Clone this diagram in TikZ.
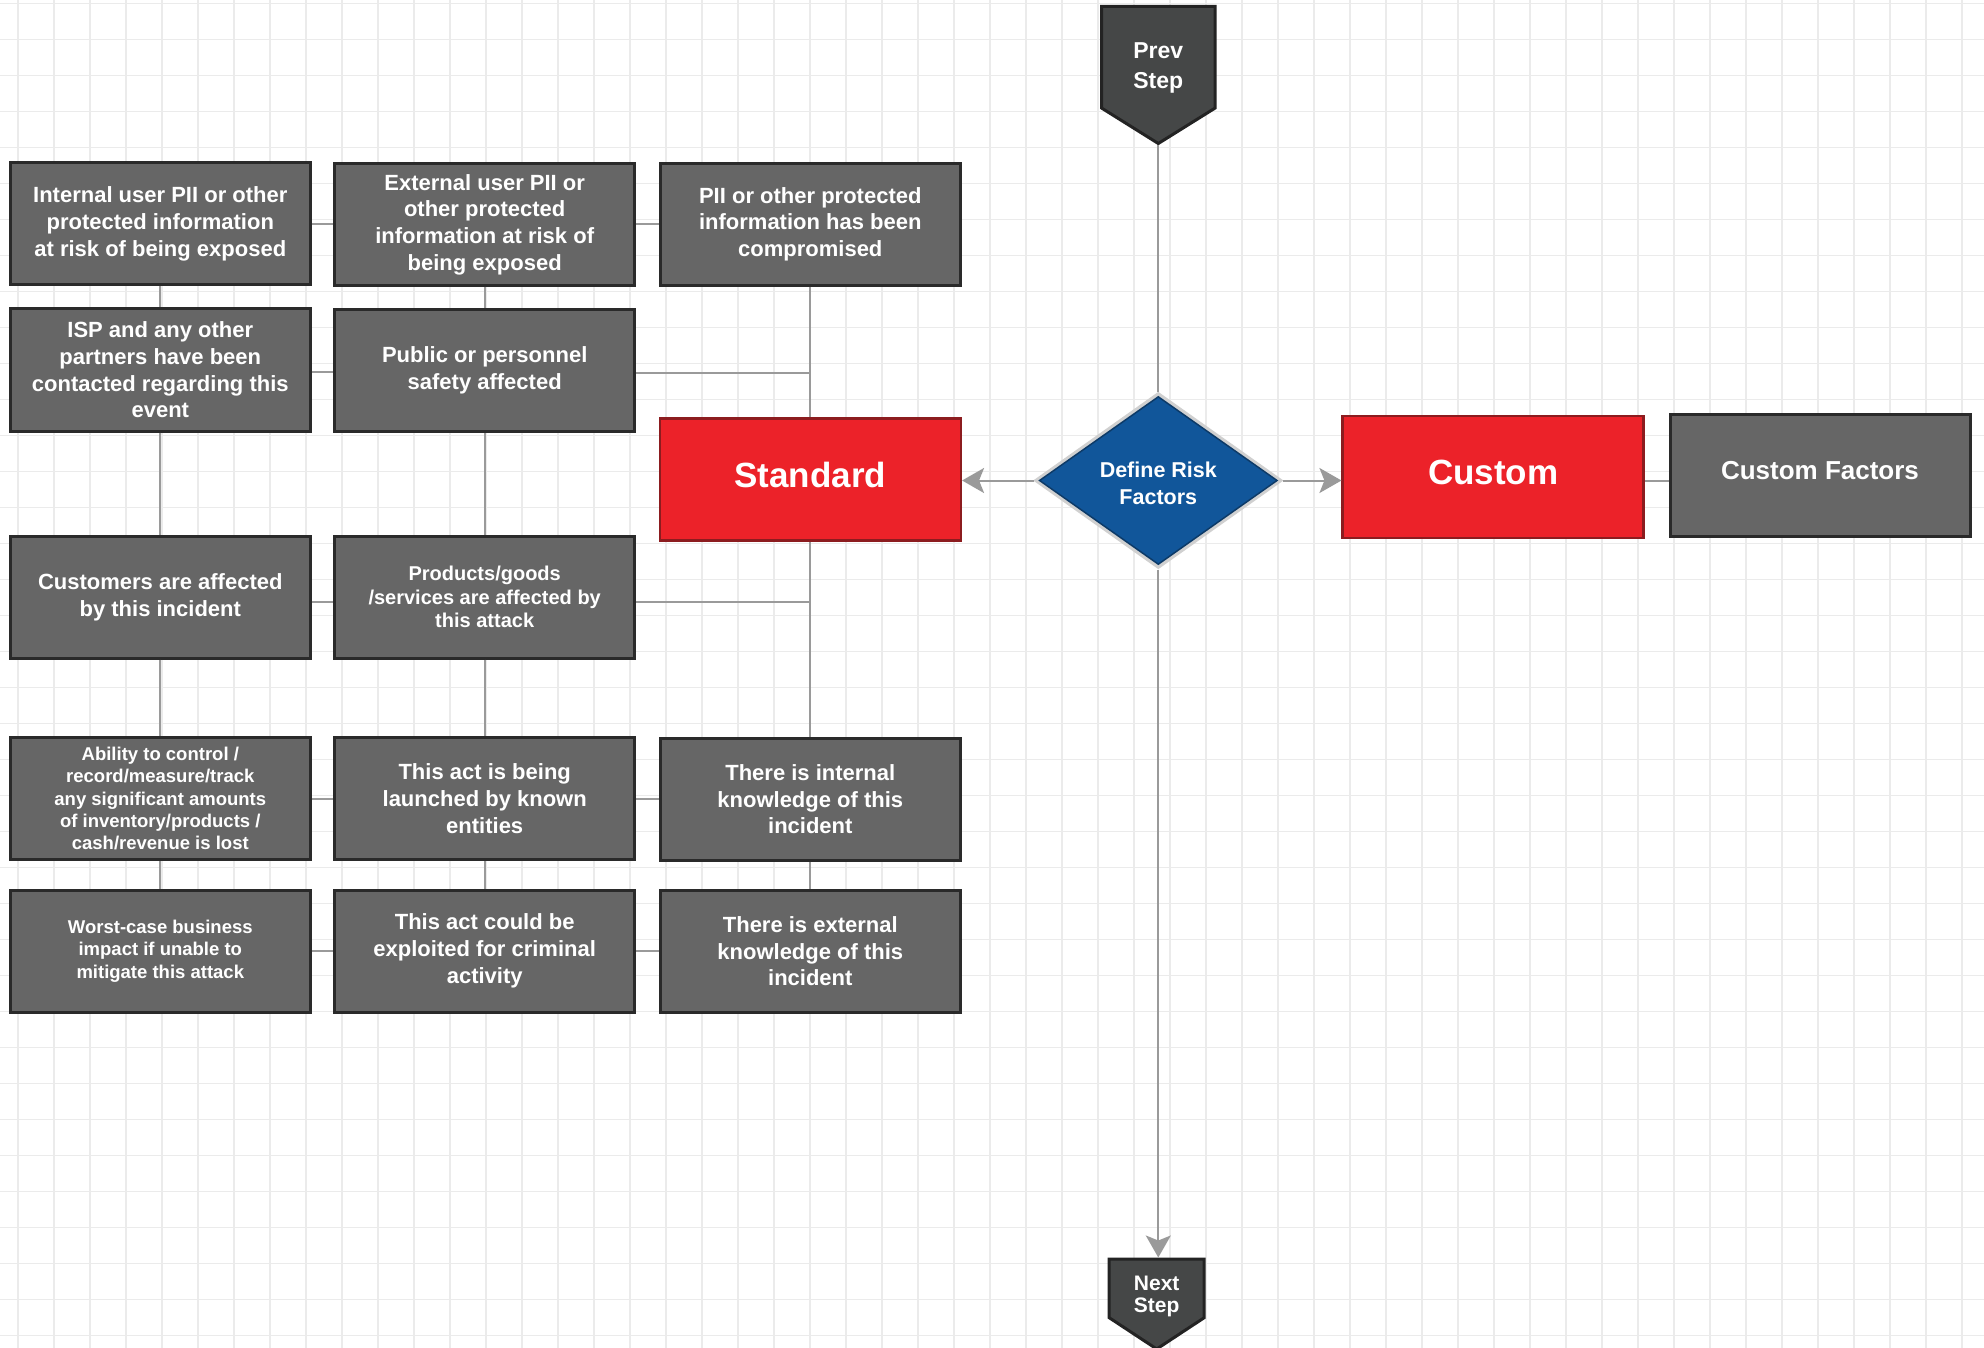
\documentclass[tikz,border=0pt]{standalone}
\usepackage{fontspec}
\setmainfont{Liberation Sans}
\usetikzlibrary{shapes.geometric,arrows.meta}
\definecolor{gridc}{HTML}{EBEBEB}
\definecolor{boxfill}{HTML}{666666}
\definecolor{boxline}{HTML}{2A2A2A}
\definecolor{redfill}{HTML}{EC2229}
\definecolor{redline}{HTML}{8C1C1F}
\definecolor{stepfill}{HTML}{454747}
\definecolor{stepline}{HTML}{232323}
\definecolor{bluefill}{HTML}{11569A}
\definecolor{blueline}{HTML}{0C3A68}
\definecolor{conn}{HTML}{9A9A9A}
\definecolor{halo}{HTML}{D0D0D0}
\tikzset{
  fbox/.style={draw=boxline, fill=boxfill, line width=3pt, minimum width=300pt,
    minimum height=122pt, inner sep=0pt, text=white, align=center,
    font=\fontsize{22}{26.7}\selectfont\bfseries},
  fsmall/.style={font=\fontsize{18.5}{22.3}\selectfont\bfseries},
  redbox/.style={draw=redline, fill=redfill, line width=2.5pt, minimum width=301pt,
    minimum height=122pt, inner sep=0pt, text=white, text depth=9pt,
    font=\fontsize{35}{40}\selectfont\bfseries},
  conline/.style={draw=conn, line width=2pt},
  arrline/.style={draw=conn, line width=2pt, -{Stealth[length=22pt,width=25pt,inset=5pt]}},
  stepshape/.style={fill=stepfill, draw=stepline, line width=3pt, line join=miter},
  steptext/.style={text=white, align=center, inner sep=0pt},
}
\begin{document}
\begin{tikzpicture}[x=1pt,y=-1pt]
\useasboundingbox (0,0) rectangle (1984,1348);
\fill[white] (0,0) rectangle (1984,1348);
% grid
\foreach \k in {0,...,54} { \draw[gridc, line width=1.5pt] ({18+36*\k},0) -- ({18+36*\k},1348); }
\foreach \k in {0,...,37} { \draw[gridc, line width=1.5pt] (0,{3.5+36*\k}) -- (1984,{3.5+36*\k}); }

% prev / next step
\draw[stepshape] (1101.5,6.5) -- (1215.2,6.5) -- (1215.2,108) -- (1158.3,143.5) -- (1101.5,108) -- cycle;
\node[steptext, font=\fontsize{23}{30}\selectfont\bfseries] (prev) at (1158.3,68) {Prev\\Step};
\coordinate (prevtip) at (1158.3,145.5);
\draw[stepshape] (1109.2,1259.2) -- (1204.2,1259.2) -- (1204.2,1317.7) -- (1156.7,1349) -- (1109.2,1317.7) -- cycle;
\node[steptext, font=\fontsize{21}{22}\selectfont\bfseries] (next) at (1156.7,1296.5) {Next\\Step};
\coordinate (nexttop) at (1158.3,1257.5);

% diamond
\node[diamond, aspect=1.4, inner sep=0pt, fill=bluefill, draw=halo, line width=4pt,
  minimum width=245pt, minimum height=174pt] (riskh) at (1158.3,480.5) {};
\node[diamond, aspect=1.4, inner sep=0pt, draw=blueline, line width=1.5pt,
  minimum width=238pt, minimum height=168pt] (risk) at (1158.3,480.5) {};
\node[text=white, align=center, inner sep=0pt,
  font=\fontsize{21.5}{26.7}\selectfont\bfseries] (risktext) at (1158.3,483.5) {Define Risk\\Factors};

% red boxes
\node[redbox] (std) at (810.3,479.5) {Standard};
\node[redbox] (cust) at (1493.2,477) {Custom};
\node[fbox, text depth=9pt, font=\fontsize{26}{30}\selectfont\bfseries] (cfac) at (1820,475.2) {Custom Factors};

% factor boxes
\node[fbox] (n11) at (160.3,224) {Internal user PII or other\\protected information\\at risk of being exposed};
\node[fbox] (n12) at (484.7,224.5) {External user PII or\\other protected\\information at risk of\\being exposed};
\node[fbox] (n13) at (810.3,224.3) {PII or other protected\\information has been\\compromised};
\node[fbox] (n21) at (160.3,370) {ISP and any other\\partners have been\\contacted regarding this\\event};
\node[fbox] (n22) at (484.7,370.5) {Public or personnel\\safety affected};
\node[fbox] (n31) at (160.3,597) {Customers are affected\\by this incident};
\node[fbox, font=\fontsize{20}{23.5}\selectfont\bfseries] (n32) at (484.7,597) {Products/goods\\/services are affected by\\this attack};
\node[fbox, fsmall] (n41) at (160.3,798.5) {Ability to control /\\record/measure/track\\any significant amounts\\of inventory/products /\\cash/revenue is lost};
\node[fbox] (n42) at (484.7,798.8) {This act is being\\launched by known\\entities};
\node[fbox] (n43) at (810.3,799.3) {There is internal\\knowledge of this\\incident};
\node[fbox, fsmall] (n51) at (160.3,951) {Worst-case business\\impact if unable to\\mitigate this attack};
\node[fbox] (n52) at (484.7,951) {This act could be\\exploited for criminal\\activity};
\node[fbox] (n53) at (810.3,951.2) {There is external\\knowledge of this\\incident};

% horizontal connectors
\coordinate (r2a) at ([yshift=-2pt]n21.east);
\coordinate (r2b) at ([yshift=-2pt]n22.east);
\coordinate (r3a) at ([yshift=-5pt]n31.east);
\coordinate (r3b) at ([yshift=-5pt]n32.east);
\draw[conline] (n11.east) -- (n11.east -| n12.west);
\draw[conline] (n12.east) -- (n12.east -| n13.west);
\draw[conline] (r2a) -- (r2a -| n22.west);
\draw[conline] (r2b) -- (r2b -| n13.south);
\draw[conline] (r3a) -- (r3a -| n32.west);
\draw[conline] (r3b) -- (r3b -| std.south);
\draw[conline] (n41.east) -- (n41.east -| n42.west);
\draw[conline] (n42.east) -- (n42.east -| n43.west);
\draw[conline] (n51.east) -- (n51.east -| n52.west);
\draw[conline] (n52.east) -- (n52.east -| n53.west);
% vertical connectors
\draw[conline] (n11.south) -- (n21.north);
\draw[conline] (n21.south) -- (n31.north);
\draw[conline] (n31.south) -- (n41.north);
\draw[conline] (n41.south) -- (n51.north);
\draw[conline] (n12.south) -- (n22.north);
\draw[conline] (n22.south) -- (n32.north);
\draw[conline] (n32.south) -- (n42.north);
\draw[conline] (n42.south) -- (n52.north);
\draw[conline] (n13.south) -- (std.north);
\draw[conline] (std.south) -- (n43.north);
\draw[conline] (n43.south) -- (n53.north);

% main flow
\draw[conline] (prevtip) -- (riskh.north);
\draw[arrline] (riskh.south) -- (nexttop);
\draw[arrline] (riskh.west) -- (riskh.west -| std.east);
\draw[arrline] (riskh.east) -- (riskh.east -| cust.west);
\draw[conline] (cust.east |- riskh) -- (cfac.west |- riskh);
\end{tikzpicture}
\end{document}
